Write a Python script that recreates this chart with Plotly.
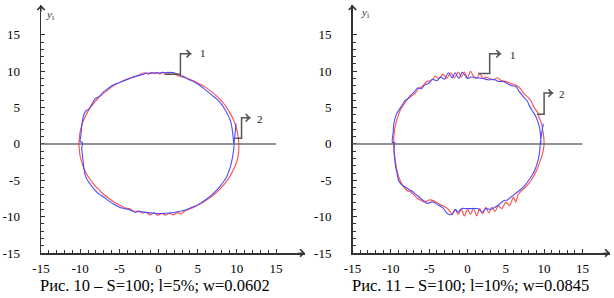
import plotly.graph_objects as go

# ---------------- data ----------------
# Fig. 10 (left): red curve
red10_x = [10.25, 10.2, 10.05, 9.85, 9.55, 9.2, 8.8, 8.3, 7.75, 7.15, 6.5, 5.9, 5.5, 5.05, 4.3, 3.45, 2.6,
           2.0, 1.5, 1.2, 0.8, 0.5, 0.2, -0.2, -0.5, -0.9, -1.3, -1.8, -2.6, -3.45, -4.3, -5.05, -5.8,
           -6.5, -7.15, -7.75, -8.3, -8.8, -9.2, -9.55, -9.8, -10.0, -10.1, -10.15, -10.1, -10.0, -9.8,
           -9.55, -9.2, -8.75, -8.25, -7.7, -7.1, -6.45, -5.75, -5.0, -4.25, -3.6, -3.1, -2.6, -2.1,
           -1.6, -1.1, -0.6, -0.1, 0.4, 0.9, 1.4, 1.9, 2.4, 2.9, 3.45, 4.3, 5.05, 5.8, 6.5, 7.2, 7.8,
           8.35, 8.85, 9.3, 9.65, 9.95, 10.15, 10.25, 10.25]
red10_y = [0.0, 0.85, 1.7, 2.55, 3.35, 4.1, 4.85, 5.6, 6.25, 6.85, 7.4, 7.85, 8.1, 8.35, 8.75, 9.1, 9.35,
           9.6, 9.55, 9.85, 9.6, 9.85, 9.6, 9.85, 9.65, 9.85, 9.6, 9.8, 9.4, 9.15, 8.8, 8.4, 7.95,
           7.4, 6.85, 6.25, 5.55, 4.85, 4.1, 3.3, 2.5, 1.7, 0.85, 0.0, -0.85, -1.7, -2.5,
           -3.3, -4.1, -4.85, -5.55, -6.2, -6.85, -7.4, -7.95, -8.4, -8.8, -8.95, -9.35, -9.2, -9.5,
           -9.4, -9.75, -9.5, -9.8, -9.55, -9.8, -9.5, -9.75, -9.45, -9.6, -9.15, -8.8, -8.4, -7.95,
           -7.45, -6.85, -6.25, -5.6, -4.9, -4.1, -3.35, -2.55, -1.7, -0.85, 0.0]

# Fig. 10 (left): blue curve
blue10_x = [9.6, 9.5, 9.35, 9.15, 8.8, 8.45, 8.0, 7.5, 6.95, 6.4, 5.8, 5.2, 4.5, 3.8, 3.1, 2.5, 2.0, 1.5,
            1.0, 0.5, 0.0, -0.5, -1.0, -1.5, -2.0, -2.6, -3.2, -3.8, -4.4, -5.0, -5.6, -6.1, -6.6, -7.0,
            -7.3, -7.6, -8.1, -8.5, -8.9, -9.3, -9.6, -9.8, -9.9, -10.0, -9.7, -9.8, -9.7, -9.6, -9.5,
            -9.3, -9.0, -8.6, -8.2, -7.6, -7.0, -6.4, -5.7, -5.0, -4.3, -3.6, -3.0, -2.3, -1.5, -0.7,
            0.0, 0.7, 1.4, 2.1, 2.8, 3.5, 4.2, 4.9, 5.5, 6.1, 6.7, 7.3, 7.8, 8.3, 8.7, 9.0, 9.25, 9.45,
            9.6, 9.65, 9.75, 9.9]
blue10_y = [0.0, 1.2, 2.4, 3.3, 4.1, 4.8, 5.5, 6.1, 6.6, 7.1, 7.6, 8.1, 8.55, 8.9, 9.3, 9.55, 9.8, 9.85,
            9.8, 9.85, 9.75, 9.8, 9.7, 9.75, 9.55, 9.4, 9.2, 8.95, 8.7, 8.45, 8.2, 7.9, 7.5, 7.2,
            6.8, 6.5, 6.2, 5.5, 4.8, 4.5, 3.8, 2.5, 1.2, 0.3, 0.2, -0.6, -1.6, -2.7, -3.5,
            -4.5, -5.1, -5.7, -6.25, -6.9, -7.3, -7.8, -8.3, -8.7, -8.9, -9.1, -9.35, -9.3, -9.45, -9.5,
            -9.6, -9.55, -9.5, -9.4, -9.25, -9.05, -8.75, -8.45, -8.05, -7.6, -7.1, -6.5, -5.9, -5.2,
            -4.5, -3.7, -2.8, -1.8, -0.8, 0.0, 1.2, 2.8]

# Fig. 11 (right): red curve
red11_x = [10.0, 9.95, 9.8, 9.6, 9.35, 9.2, 8.7, 8.4, 8.0, 7.4, 6.9, 6.3, 5.7, 5.1, 4.4, 3.9, 3.4, 2.9,
           2.4, 2.0, 1.6, 1.2, 0.8, 0.4, 0.0, -0.4, -0.8, -1.2, -1.7, -2.2, -2.7, -3.2, -3.7, -4.2,
           -4.7, -5.3, -5.8, -6.4, -6.8, -7.3, -7.8, -8.3, -8.7, -9.0, -9.3, -9.5, -9.6, -9.65, -9.55,
           -9.45, -9.3, -9.1, -8.8, -8.4, -7.9, -7.4, -7.0, -6.5, -6.0, -5.5, -5.0, -4.4, -3.8, -3.2,
           -2.6, -2.0, -1.6, -1.2, -0.8, -0.4, 0.0, 0.4, 0.8, 1.2, 1.6, 2.0, 2.4, 2.8, 3.2, 3.6, 4.0,
           4.5, 5.0, 5.5, 6.0, 6.3, 6.6, 7.1, 7.7, 8.2, 8.6, 9.0, 9.4, 9.75, 9.95, 10.0]
red11_y = [0.0, 1.0, 2.0, 3.0, 3.6, 4.3, 5.0, 5.7, 6.3, 6.9, 7.6, 8.1, 8.3, 8.6, 8.7, 9.1, 8.8, 9.0,
           9.2, 9.0, 9.7, 9.0, 9.3, 10.0, 9.1, 9.9, 9.2, 9.9, 9.1, 9.8, 9.0, 9.6, 9.0, 9.3,
           8.7, 8.6, 8.0, 7.6, 7.0, 6.6, 6.2, 5.4, 4.8, 4.0, 3.0, 2.0, 1.0, 0.0, -1.0,
           -2.0, -3.0, -4.0, -5.0, -5.8, -6.4, -6.6, -7.0, -7.5, -7.8, -8.0, -7.7, -7.8, -8.2, -8.5,
           -8.9, -9.6, -9.0, -9.7, -9.0, -9.9, -9.0, -9.7, -8.8, -9.9, -8.9, -9.6, -8.7, -9.5, -8.7,
           -9.3, -8.5, -8.9, -8.0, -8.5, -7.3, -8.0, -7.0, -6.4, -5.8, -5.2, -4.5, -3.7, -2.6, -1.5,
           -0.5, 0.0]

# Fig. 11 (right): blue curve
blue11_x = [9.6, 9.55, 9.45, 9.2, 8.9, 8.5, 8.1, 7.8, 7.2, 6.7, 6.3, 5.8, 5.2, 4.7, 4.0, 3.4, 2.8, 2.0,
            1.2, 0.5, 0.0, -0.3, -0.7, -1.1, -1.6, -2.0, -2.5, -3.0, -3.5, -4.0, -4.6, -5.1, -5.6, -6.0,
            -6.5, -7.0, -7.4, -7.8, -8.2, -8.6, -9.0, -9.3, -9.6, -9.7, -9.8, -9.5, -9.6, -9.5, -9.4,
            -9.2, -9.0, -8.6, -8.0, -7.6, -7.2, -6.8, -6.4, -6.0, -5.6, -5.2, -4.8, -4.4, -3.8, -3.2,
            -2.6, -2.0, -1.6, -1.2, -0.8, 0.0, 0.8, 1.4, 1.9, 2.4, 3.0, 3.6, 4.2, 4.7, 5.2, 5.8, 6.3,
            6.9, 7.5, 8.0, 8.5, 8.9, 9.2, 9.4, 9.5, 9.65, 9.9]
blue11_y = [0.0, 1.0, 2.0, 3.0, 3.8, 4.5, 5.2, 5.9, 6.6, 7.3, 7.9, 8.0, 8.3, 8.6, 8.6, 8.9, 8.8, 9.0,
            9.1, 9.2, 9.0, 9.4, 9.9, 9.0, 9.8, 9.1, 9.8, 8.9, 9.2, 8.7, 8.9, 8.3, 8.1, 7.6,
            7.7, 7.1, 6.7, 6.2, 5.9, 5.2, 4.6, 4.0, 2.8, 1.5, 0.2, 0.2, -0.8, -2.0, -3.0,
            -4.0, -5.0, -5.6, -6.0, -6.3, -6.5, -6.9, -7.2, -7.6, -7.9, -8.2, -8.0, -8.0, -8.4, -8.8,
            -9.6, -9.7, -9.0, -9.4, -8.9, -8.9, -8.9, -8.9, -9.4, -8.9, -9.0, -8.7, -8.3, -7.8, -7.7,
            -7.2, -6.8, -6.3, -5.7, -5.0, -4.2, -3.3, -2.3, -1.2, 0.0, 1.2, 2.8]

tick_vals = [-15, -10, -5, 0, 5, 10, 15]
tick_text = ["-15", "-10", "-5", "0", "5", "10", "15"]
minor_vals = list(range(-15, 16))
captions = ["Рис. 10 – S=100; l=5%; w=0.0602", "Рис. 11 – S=100; l=10%; w=0.0845"]

# ---------------- figure ----------------
RED = "#ff4a4a"
BLUE = "#4a4aff"
SERIF = "Liberation Serif, Times New Roman, serif"
AX = "#333333"

fig = go.Figure()
panels = [("x", "y", red10_x, red10_y, blue10_x, blue10_y),
          ("x2", "y2", red11_x, red11_y, blue11_x, blue11_y)]
for xa, ya, rx, ry, bx, by in panels:
    fig.add_trace(go.Scatter(x=rx, y=ry, mode="lines",
                             line=dict(color=RED, width=1.1, shape="spline", smoothing=0.8),
                             xaxis=xa, yaxis=ya, showlegend=False, hoverinfo="skip"))
    fig.add_trace(go.Scatter(x=bx, y=by, mode="lines",
                             line=dict(color=BLUE, width=1.1, shape="spline", smoothing=0.8),
                             xaxis=xa, yaxis=ya, showlegend=False, hoverinfo="skip"))

XMAX_L, XMAX_R, YMAX = 18.7, 18.6, 19.1

def xaxis(domain, xmax, anchor):
    return dict(domain=domain, range=[-15, xmax], anchor=anchor, showgrid=False, zeroline=False,
                automargin=False,
                showline=True, linecolor=AX, linewidth=1.5,
                tickmode="array", tickvals=tick_vals, ticktext=tick_text,
                ticks="inside", ticklen=4, tickcolor=AX, tickwidth=1,
                minor=dict(tickmode="array", tickvals=minor_vals, ticks="inside", ticklen=3,
                           tickcolor=AX, tickwidth=1),
                ticklabelstandoff=3,
                tickfont=dict(family=SERIF, size=13, color="#000"), fixedrange=True)

def yaxis(anchor):
    return dict(domain=[0.151, 0.983], range=[-15, YMAX], anchor=anchor, showgrid=False, zeroline=False,
                automargin=False,
                showline=True, linecolor=AX, linewidth=1.5,
                tickmode="array", tickvals=tick_vals, ticktext=tick_text,
                ticks="inside", ticklen=4, tickcolor=AX, tickwidth=1,
                minor=dict(tickmode="array", tickvals=minor_vals, ticks="inside", ticklen=3,
                           tickcolor=AX, tickwidth=1),
                ticklabelstandoff=17,
                tickfont=dict(family=SERIF, size=13, color="#000"), fixedrange=True)

fig.update_layout(
    width=614, height=298, margin=dict(l=0, r=0, t=0, b=0, pad=0),
    paper_bgcolor="white", plot_bgcolor="white",
    xaxis=xaxis([41 / 614, 305 / 614], XMAX_L, "y"),
    yaxis=yaxis("x"),
    xaxis2=xaxis([352.5 / 614, 610 / 614], XMAX_R, "y2"),
    yaxis2=yaxis("x2"),
)

shapes = []
annotations = []
GREY = "#555555"
callouts = [
    ("x", "y", [(0.9, 9.6), (2.8, 9.6), (2.8, 12.4), (4.2, 12.4)], "1", (5.7, 12.5)),
    ("x", "y", [(9.8, 0.8), (10.6, 0.8), (10.6, 3.6), (11.75, 3.6)], "2", (12.9, 3.4)),
    ("x2", "y2", [(1.4, 9.7), (2.9, 9.7), (2.9, 12.4), (4.4, 12.4)], "1", (6.0, 12.2)),
    ("x2", "y2", [(9.1, 4.1), (10.0, 4.1), (10.0, 7.0), (11.2, 7.0)], "2", (12.3, 6.9)),
]
for xr, yr, pts, lab, lpos in callouts:
    path = "M " + " L ".join(f"{px},{py}" for px, py in pts)
    shapes.append(dict(type="path", path=path, xref=xr, yref=yr, line=dict(color=GREY, width=1.5)))
    hx, hy = pts[-1]
    annotations.append(dict(x=hx, y=hy, xref=xr, yref=yr, ax=-6, ay=0, text="", showarrow=True,
                            arrowhead=4, arrowsize=1.1, arrowwidth=1.3, arrowcolor=GREY))
    annotations.append(dict(x=lpos[0], y=lpos[1], xref=xr, yref=yr, text=lab, showarrow=False,
                            font=dict(family=SERIF, size=11, color="#222")))

for xr, yr, xmax, xlab, ylab in [("x", "y", XMAX_L, (16.7, -16.6), (-13.9, 17.7)),
                                 ("x2", "y2", XMAX_R, (16.8, -16.6), (-13.4, 18.0))]:
    shapes.append(dict(type="line", x0=-15, x1=15, y0=0, y1=0, xref=xr, yref=yr,
                       line=dict(color="#6e6e6e", width=1.5)))
    annotations.append(dict(x=xmax, y=-15, xref=xr, yref=yr, ax=-8, ay=0, text="", showarrow=True,
                            arrowhead=4, arrowsize=1.2, arrowwidth=1.2, arrowcolor=AX))
    annotations.append(dict(x=-15, y=YMAX, xref=xr, yref=yr, ax=0, ay=8, text="", showarrow=True,
                            arrowhead=4, arrowsize=1.2, arrowwidth=1.2, arrowcolor=AX))
    annotations.append(dict(x=xlab[0], y=xlab[1], xref=xr, yref=yr, showarrow=False,
                            text="<i>x</i><sub>i</sub>", font=dict(family=SERIF, size=11, color="#333")))
    annotations.append(dict(x=ylab[0], y=ylab[1], xref=xr, yref=yr, showarrow=False,
                            text="<i>y</i><sub>i</sub>", font=dict(family=SERIF, size=11, color="#333")))

for cx, cap in zip([155 / 614, 470 / 614], captions):
    annotations.append(dict(x=cx, y=(298 - 285.5) / 298, xref="paper", yref="paper", showarrow=False,
                            text=cap, font=dict(family=SERIF, size=16.5, color="#000"),
                            xanchor="center", yanchor="middle"))

fig.update_layout(shapes=shapes, annotations=annotations)
fig.write_html("out.html", config={"displayModeBar": False, "staticPlot": True},
               post_script="document.body.style.margin='0';document.body.style.overflow='hidden';")
